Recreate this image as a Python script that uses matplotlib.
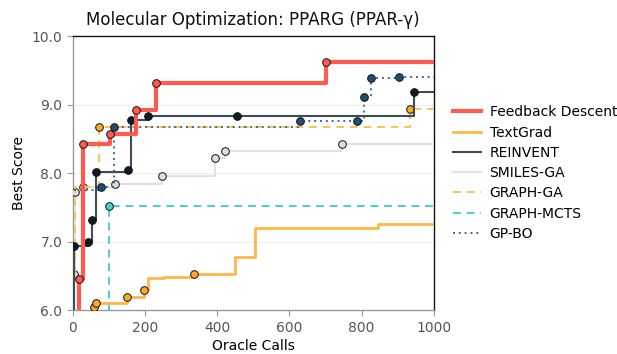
import matplotlib
matplotlib.use("Agg")
import matplotlib.pyplot as plt

# ---- data ----
fd_x = [0, 17, 29, 104, 174, 231, 701, 1000]
fd_y = [5.0, 6.46, 8.42, 8.57, 8.92, 9.31, 9.62, 9.62]
fd_m = [1, 2, 3, 4, 5, 6]

tg_x = [59, 63, 150, 197, 209, 252, 335, 449, 504, 846, 1000]
tg_y = [6.05, 6.10, 6.19, 6.30, 6.47, 6.49, 6.52, 6.78, 7.20, 7.26, 7.26]
tg_m = [0, 1, 2, 3, 6]

rv_x = [0, 4, 42, 54, 64, 152, 161, 208, 456, 945, 1000]
rv_y = [5.5, 6.93, 7.00, 7.32, 8.01, 8.05, 8.77, 8.83, 8.84, 9.18, 9.18]
rv_m = [1, 2, 3, 4, 5, 6, 7, 8, 9]

sg_x = [3, 7, 27, 117, 247, 394, 421, 746, 1000]
sg_y = [6.52, 7.73, 7.80, 7.84, 7.96, 8.22, 8.32, 8.42, 8.42]
sg_m = [0, 1, 2, 3, 4, 5, 6, 7]

gg_x = [3, 5, 72, 933, 1000]
gg_y = [6.54, 7.80, 8.67, 8.93, 8.93]
gg_m = [2, 3]

mc_x = [0, 99, 1000]
mc_y = [5.5, 7.52, 7.52]
mc_m = [1]

gp_x = [2, 79, 114, 629, 788, 807, 827, 904, 1000]
gp_y = [7.76, 7.80, 8.67, 8.76, 8.76, 9.11, 9.39, 9.41, 9.41]
gp_m = [1, 2, 3, 4, 5, 6, 7]

x_ticks = [0, 200, 400, 600, 800, 1000]
y_ticks = [6.0, 7.0, 8.0, 9.0, 10.0]

fig = plt.figure(figsize=(6.17, 3.54), dpi=100)
ax = fig.add_axes([0.118, 0.124, 0.585, 0.774])

series = [
    # label, x, y, marker idx, line color, lw, ls, marker face, zorder
    ("Feedback Descent", fd_x, fd_y, fd_m, "#ff5a4f", 3.0, "-", "#ff5a4f", 10),
    ("TextGrad", tg_x, tg_y, tg_m, "#ffb547", 2.0, "-", "#ffa726", 6),
    ("REINVENT", rv_x, rv_y, rv_m, "#3e4a57", 1.5, "-", "#0e1c28", 7),
    ("SMILES-GA", sg_x, sg_y, sg_m, "#e0e2e6", 1.5, "-", "#dcdee2", 3),
    ("GRAPH-GA", gg_x, gg_y, gg_m, "#ffc251", 1.4, (0, (4, 3)), "#f7a928", 5),
    ("GRAPH-MCTS", mc_x, mc_y, mc_m, "#45d0d0", 1.4, (0, (4, 3)), "#45d0d0", 4),
    ("GP-BO", gp_x, gp_y, gp_m, "#3b6d8f", 1.4, (0, (1, 2)), "#1d4f6f", 8),
]

handles = []
for label, xs, ys, mi, col, lw, ls, mf, z in series:
    h, = ax.step(xs, ys, where="post", color=col, lw=lw, ls=ls, label=label, zorder=z)
    ax.plot([xs[i] for i in mi], [ys[i] for i in mi], ls="none", marker="o",
            ms=5.5, mfc=mf, mec="#111111", mew=0.7, zorder=z + 0.5)
    handles.append(h)

ax.set_xlim(0, 1000)
ax.set_ylim(6.0, 10.0)
ax.set_xticks(x_ticks)
ax.set_yticks(y_ticks)
ax.yaxis.set_major_formatter(matplotlib.ticker.FormatStrFormatter("%.1f"))
ax.grid(axis="y", color="#eeeeee", lw=0.8, zorder=0)
ax.set_axisbelow(True)
for s in ("left", "bottom"):
    ax.spines[s].set_color("#999999")
    ax.spines[s].set_linewidth(1.0)
for s in ("top", "right"):
    ax.spines[s].set_color("#111111")
    ax.spines[s].set_linewidth(1.0)
ax.tick_params(colors="#999999", labelcolor="#555555", labelsize=10, length=4)

ax.set_title("Molecular Optimization: PPARG (PPAR-γ)", fontsize=12, color="#111111", pad=8)
ax.set_xlabel("Oracle Calls", fontsize=10, labelpad=3)
ax.set_ylabel("Best Score", fontsize=10)

ax.legend(handles=handles, loc="center left", bbox_to_anchor=(1.02, 0.5),
          frameon=False, fontsize=10, handlelength=2.0, handletextpad=0.6,
          labelspacing=0.45)

fig.savefig("out.png", dpi=100)
